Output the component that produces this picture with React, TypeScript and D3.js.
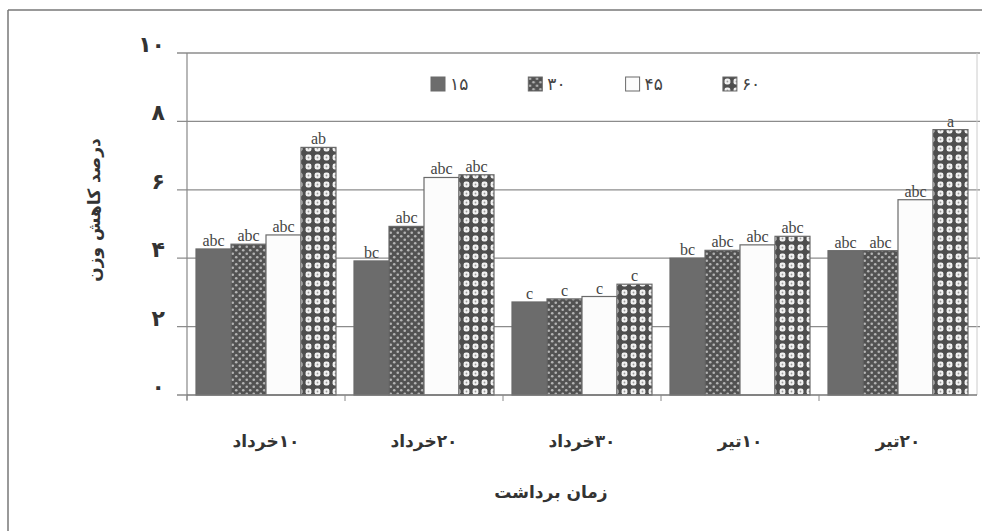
import * as d3 from "d3";
import React from "react";

const categories = ["۱۰خرداد", "۲۰خرداد", "۳۰خرداد", "۱۰تیر", "۲۰تیر"];
const seriesNames = ["۱۵", "۳۰", "۴۵", "۶۰"];
const values15 = [4.27, 3.92, 2.72, 4.0, 4.22];
const values30 = [4.41, 4.93, 2.81, 4.23, 4.22];
const values45 = [4.68, 6.36, 2.88, 4.39, 5.71];
const values60 = [7.24, 6.44, 3.24, 4.64, 7.76];
const letters15 = ["abc", "bc", "c", "bc", "abc"];
const letters30 = ["abc", "abc", "c", "abc", "abc"];
const letters45 = ["abc", "abc", "c", "abc", "abc"];
const letters60 = ["ab", "abc", "c", "abc", "a"];
const yTicks = [0, 2, 4, 6, 8, 10];
const yTickLabels = ["۰", "۲", "۴", "۶", "۸", "۱۰"];

const W = 982;
const H = 531;
const left = 187;
const right = 977;
const top = 53;
const bottom = 395;

const fills = ["#6c6c6c", "url(#p30)", "#fcfcfc", "url(#p60)"];
const persian = "'DejaVu Sans', sans-serif";

export default function App() {
  const allValues = [values15, values30, values45, values60];
  const allLetters = [letters15, letters30, letters45, letters60];

  const x = d3.scaleBand().domain(categories).range([left, right]).paddingInner(0.114).paddingOuter(0.057);
  const xs = d3.scaleBand().domain(seriesNames).range([0, x.bandwidth()]);
  const y = d3.scaleLinear().domain([0, 10]).range([bottom, top]);

  const step = x.step();

  return (
    <svg width={W} height={H} style={{ position: "absolute", left: 0, top: 0, background: "#fff" }}>
      <defs>
        <pattern id="p30" width={7} height={7} patternUnits="userSpaceOnUse">
          <rect width={7} height={7} fill="#525252" />
          <circle cx={1.75} cy={1.75} r={1.3} fill="#b4b4b4" />
          <circle cx={5.25} cy={5.25} r={1.3} fill="#b4b4b4" />
        </pattern>
        <pattern id="p60" width={9} height={9} patternUnits="userSpaceOnUse">
          <rect width={9} height={9} fill="#4e4e4e" />
          <rect x={1.6} y={1.6} width={5.8} height={5.8} rx={2.2} fill="#f2f2f2" />
          <circle cx={4.5} cy={4.5} r={0.9} fill="#999" />
        </pattern>
      </defs>

      {/* frame */}
      <line x1={8} x2={W} y1={10} y2={10} stroke="#777" strokeWidth={1.5} />
      <line x1={8} x2={8} y1={10} y2={H} stroke="#777" strokeWidth={1.5} />

      {/* gridlines */}
      {yTicks.slice(1).map((t) => (
        <line key={t} x1={left - 10} x2={right + 3} y1={y(t)} y2={y(t)} stroke="#8c8c8c" strokeWidth={1.3} />
      ))}
      <line x1={left - 10} x2={left} y1={y(0)} y2={y(0)} stroke="#777" strokeWidth={1.3} />
      <line x1={left} x2={left} y1={top} y2={bottom + 5} stroke="#888" strokeWidth={1.2} />
      <line x1={right} x2={right} y1={top} y2={bottom} stroke="#ccc" strokeWidth={1} />

      {/* y tick labels */}
      {yTicks.map((t, i) => (
        <text key={t} x={165} y={y(t) - 1} textAnchor="end" fontFamily={persian} fontWeight="bold" fontSize={22} fill="#333">
          {yTickLabels[i]}
        </text>
      ))}

      {/* bars */}
      {categories.map((c, ci) => (
        <g key={c} transform={`translate(${x(c)},0)`}>
          {seriesNames.map((s, si) => {
            const v = allValues[si][ci];
            return (
              <g key={s}>
                <rect
                  x={xs(s)}
                  y={y(v)}
                  width={xs.bandwidth()}
                  height={y(0) - y(v)}
                  fill={fills[si]}
                  stroke="#6a6a6a"
                  strokeWidth={1.2}
                />
                <text
                  x={(xs(s) as number) + xs.bandwidth() / 2}
                  y={y(v) - 3}
                  textAnchor="middle"
                  fontFamily="'Liberation Serif', serif"
                  fontSize={16}
                  fill="#444"
                >
                  {allLetters[si][ci]}
                </text>
              </g>
            );
          })}
        </g>
      ))}

      {/* x axis */}
      <line x1={left} x2={right} y1={y(0)} y2={y(0)} stroke="#777" strokeWidth={1.5} />
      {categories.map((c, i) => (
        <line key={"t" + i} x1={left + i * step} x2={left + i * step} y1={y(0)} y2={y(0) + 6} stroke="#888" strokeWidth={1} />
      ))}
      {categories.map((c) => (
        <text
          key={"l" + c}
          x={(x(c) as number) + x.bandwidth() / 2}
          y={447}
          textAnchor="middle"
          direction="rtl"
          fontFamily={persian}
          fontWeight="bold"
          fontSize={17}
          fill="#333"
        >
          {c}
        </text>
      ))}

      {/* legend */}
      {seriesNames.map((s, i) => (
        <g key={"lg" + s} transform={`translate(${431 + i * 97.3},77)`}>
          <rect x={0} y={0} width={14} height={14} fill={fills[i]} stroke="#6a6a6a" strokeWidth={1} />
          <text x={19} y={13} fontFamily={persian} fontSize={17} fill="#444">
            {s}
          </text>
        </g>
      ))}

      {/* axis titles */}
      <text x={551} y={498} textAnchor="middle" direction="rtl" fontFamily={persian} fontWeight="bold" fontSize={17} fill="#333">
        زمان برداشت
      </text>
      <text
        transform="translate(100,210) rotate(-90)"
        textAnchor="middle"
        direction="rtl"
        fontFamily={persian}
        fontWeight="bold"
        fontSize={17}
        fill="#333"
      >
        درصد کاهش وزن
      </text>
    </svg>
  );
}
